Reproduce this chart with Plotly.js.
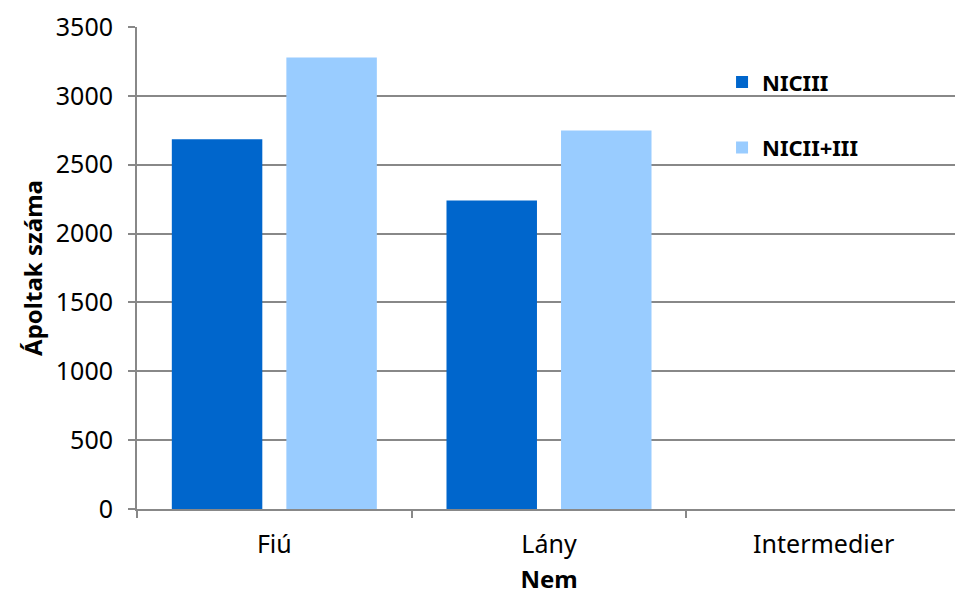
<!DOCTYPE html>
<html><head><meta charset="utf-8">
<script src="https://cdn.plot.ly/plotly-3.0.1.min.js"></script>
<style>html,body{margin:0;padding:0;overflow:hidden;background:#fff}#c{width:961px;height:603px}</style>
</head><body><div id="c"></div>
<script>
const categories = ["Fiú", "Lány", "Intermedier"];
const seriesNames = ["NICIII", "NICII+III"];
const nicIII = [2685, 2240, 0];
const nicIIplusIII = [3278, 2748, 0];
const yTicks = [0, 500, 1000, 1500, 2000, 2500, 3000, 3500];

const font = "Noto Sans, sans-serif";
const traces = [
  {type: "bar", name: "<b>" + seriesNames[0] + "</b>", x: categories, y: nicIII, marker: {color: "#0066cc"}, legendgroup: "a"},
  {type: "bar", name: "<b>" + seriesNames[1] + "</b>", x: categories, y: nicIIplusIII, marker: {color: "#99ccff"}, legendgroup: "b"}
];
const layout = {
  width: 961, height: 603,
  margin: {l: 137, r: 0, t: 27, b: 94},
  paper_bgcolor: "#fff", plot_bgcolor: "#fff",
  barmode: "group", bargap: 0.166, bargroupgap: 0.21,
  font: {family: font, size: 25, color: "#000"},
  xaxis: {
    type: "category", tickson: "boundaries", ticks: "outside", ticklen: 7, tickwidth: 2, tickcolor: "#888",
    showline: true, linecolor: "#888", linewidth: 2, showgrid: false,
    ticklabelstandoff: 12,
    title: {text: "<b>Nem</b>", font: {size: 24, family: font}, standoff: 12},
    tickfont: {size: 25}
  },
  yaxis: {
    range: [0, 3500], tickvals: yTicks, ticktext: yTicks.map(String),
    ticks: "outside", ticklen: 7, tickwidth: 2, tickcolor: "#888",
    showline: true, linecolor: "#888", linewidth: 2,
    showgrid: true, gridcolor: "#888", gridwidth: 2, zeroline: false,
    ticklabelstandoff: 10,
    title: {text: "<b>Ápoltak száma</b>", font: {size: 24, family: font}, standoff: 6},
    tickfont: {size: 25}
  },
  shapes: [{
    type: "rect", layer: "between", xref: "paper", yref: "y",
    x0: 0.711, x1: 0.956, y0: 2460, y1: 3230,
    fillcolor: "#fff", line: {width: 0}
  }],
  showlegend: true,
  legend: {
    x: 0.71, y: 0.929, xanchor: "left", yanchor: "top",
    bgcolor: "rgba(0,0,0,0)", traceorder: "grouped", tracegroupgap: 34,
    font: {size: 22, family: font}, borderwidth: 0
  }
};
Plotly.newPlot("c", traces, layout, {displayModeBar: false, staticPlot: true});
</script></body></html>
